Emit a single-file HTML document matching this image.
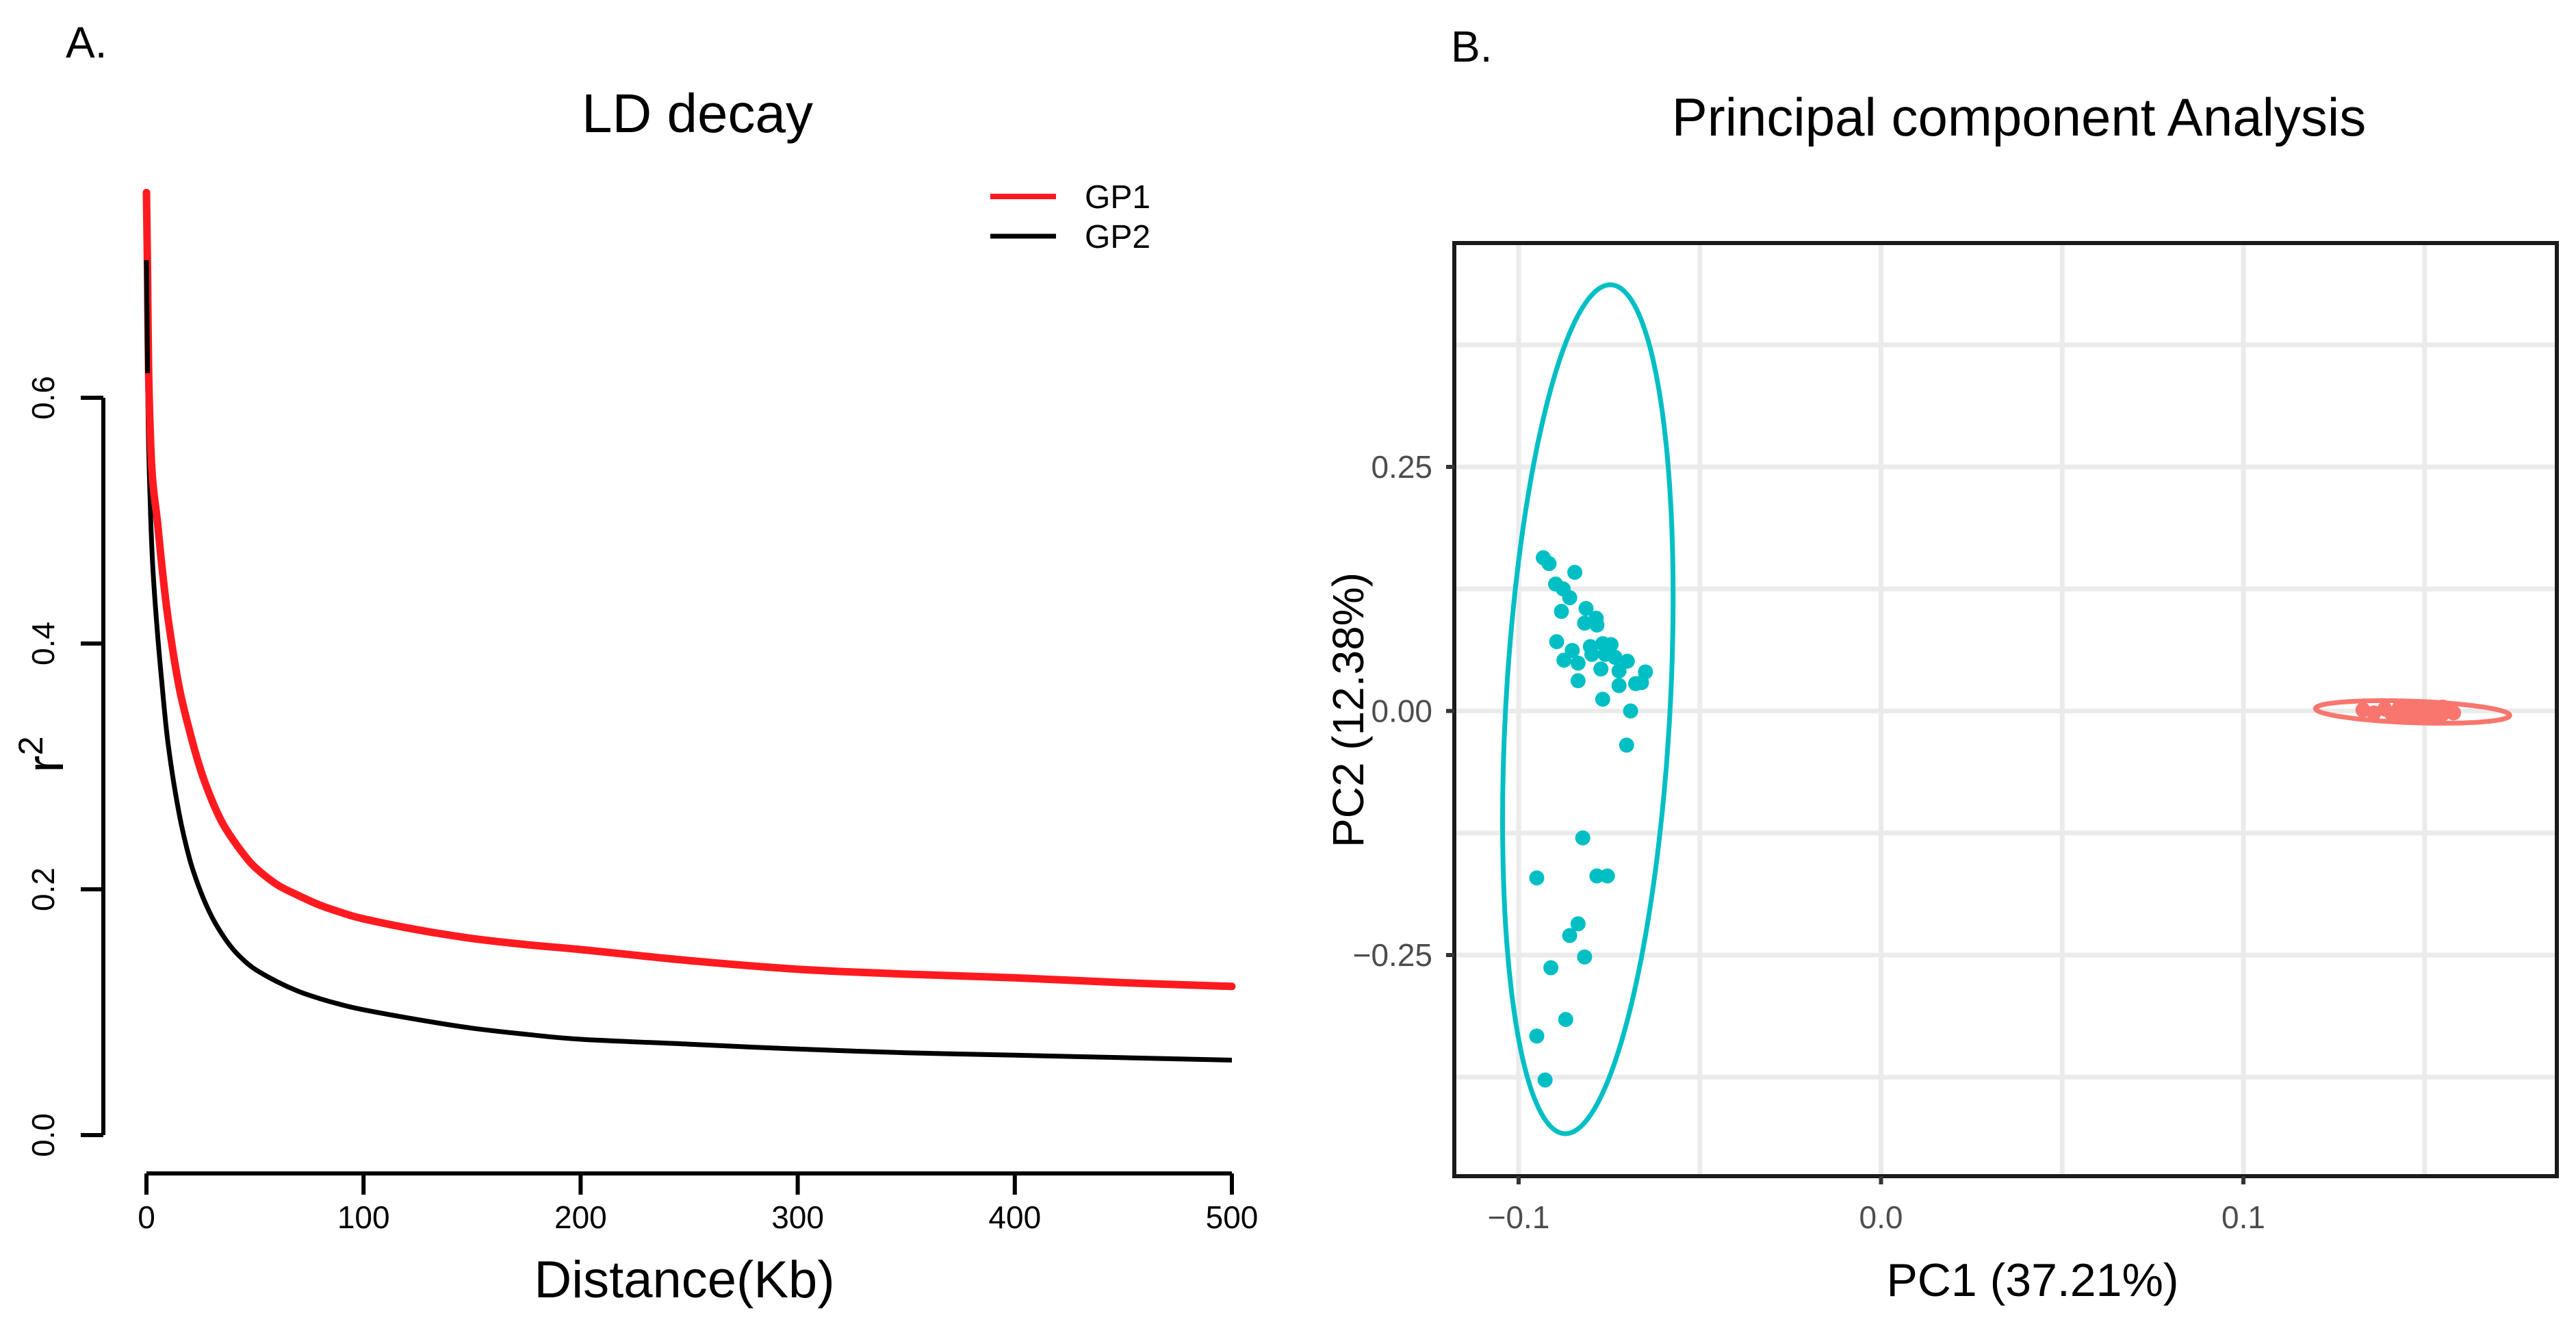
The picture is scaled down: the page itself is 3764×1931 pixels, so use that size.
<!DOCTYPE html>
<html><head><meta charset="utf-8"><style>
html,body{margin:0;padding:0;background:#fff;}
svg{display:block;}
text{font-family:"Liberation Sans",Arial,sans-serif;}
</style></head><body>
<svg id="fig" width="3764" height="1931" viewBox="0 0 3764 1931" xmlns="http://www.w3.org/2000/svg">
<g id="ld"></g>
<g id="pca"></g>
</svg>
<script>
// ---------- LD decay data ----------
const ldDistance = [0,0.5,1,2,3,5,7,10,15,20,25,30,35,40,45,50,60,70,80,90,100,125,150,175,200,250,300,350,400,450,500];
const ldGP1 = [0.767,0.70,0.62,0.56,0.53,0.50,0.465,0.42,0.365,0.328,0.297,0.273,0.254,0.240,0.228,0.218,0.204,0.195,0.187,0.181,0.176,0.167,0.160,0.155,0.151,0.142,0.135,0.131,0.128,0.124,0.121];
const ldGP2 = [0.712,0.62,0.56,0.50,0.46,0.41,0.37,0.318,0.262,0.224,0.198,0.178,0.163,0.151,0.142,0.135,0.125,0.117,0.111,0.106,0.102,0.094,0.087,0.082,0.078,0.074,0.070,0.067,0.065,0.063,0.061];
const ldXTicks = [0,100,200,300,400,500];
const ldYTicks = [0.0,0.2,0.4,0.6];
const ldYTickLabels = ["0.0","0.2","0.4","0.6"];
const ldSeriesNames = ["GP1","GP2"];

// ---------- PCA data ----------
const pcaGP2x = [-0.0932,-0.0916,-0.0845,-0.0898,-0.0877,-0.0859,-0.0882,-0.0814,-0.0786,-0.0818,-0.0784,-0.0895,-0.0852,-0.0802,-0.0768,-0.0745,-0.0798,-0.0761,-0.0734,-0.0875,-0.0836,-0.0700,-0.0773,-0.0723,-0.0650,-0.0836,-0.0661,-0.0677,-0.0723,-0.0768,-0.0691,-0.0702,-0.0823,-0.0950,-0.0784,-0.0755,-0.0836,-0.0859,-0.0818,-0.0911,-0.0870,-0.0950,-0.0927];
const pcaGP2y = [0.157,0.151,0.142,0.130,0.125,0.116,0.102,0.105,0.095,0.090,0.088,0.071,0.062,0.066,0.069,0.068,0.058,0.058,0.055,0.052,0.049,0.051,0.043,0.041,0.040,0.031,0.029,0.028,0.026,0.012,0.000,-0.035,-0.130,-0.171,-0.169,-0.169,-0.218,-0.230,-0.252,-0.263,-0.316,-0.333,-0.378];
const pcaGP1x = [0.133,0.136,0.139,0.141,0.143,0.144,0.145,0.146,0.147,0.148,0.149,0.150,0.151,0.152,0.153,0.154,0.155,0.156,0.158,0.146,0.149,0.152,0.142,0.155];
const pcaGP1y = [0.001,-0.002,0.002,-0.003,0.003,-0.004,0.000,0.004,-0.003,0.002,-0.005,0.003,-0.002,0.001,-0.004,0.002,-0.003,0.000,-0.002,-0.006,-0.007,-0.006,-0.005,0.004];
const pcaXTicks = [-0.1,0.0,0.1];
const pcaXTickLabels = ["\u22120.1","0.0","0.1"];
const pcaXMinor = [-0.05,0.05,0.15];
const pcaYTicks = [-0.25,0.0,0.25];
const pcaYTickLabels = ["\u22120.25","0.00","0.25"];
const pcaYMinor = [-0.375,-0.125,0.125,0.375];
const ellGP2 = [-0.0809,0.0018, 0.0062,0.4348, 0.0227,0.0];
const ellGP1 = [0.1467,-0.001, 0.0268,-0.0035, 0.0,0.011];

const NS="http://www.w3.org/2000/svg";
function mk(parent,tag,attrs,txt){const e=document.createElementNS(NS,tag);for(const k in attrs)e.setAttribute(k,attrs[k]);if(txt!==undefined)e.textContent=txt;parent.appendChild(e);return e;}

// ===== LD chart =====
(function(){
const g=document.getElementById('ld');
const X=v=>214+v*(1800-214)/500;
const Y=v=>1658-v*(1658-581)/0.6;
let t;
t=mk(g,'text',{x:96,y:84,'font-size':64,fill:'#000'},'A.');

t=mk(g,'text',{x:1019,y:193,'font-size':80,'text-anchor':'middle',fill:'#000'},'LD decay');

let a=mk(g,'line',{x1:151,x2:151,y1:Y(0.6),y2:Y(0),stroke:'#000','stroke-width':6});

ldYTicks.forEach((v,i)=>{
 const tk=mk(g,'line',{x1:118,x2:151,y1:Y(v),y2:Y(v),stroke:'#000','stroke-width':6});
 
 const lb=mk(g,'text',{x:0,y:0,'font-size':46,'text-anchor':'middle',transform:`translate(79,${Y(v)}) rotate(-90)`,fill:'#000'},ldYTickLabels[i]);
 
});
a=mk(g,'line',{x1:X(0),x2:X(500),y1:1714,y2:1714,stroke:'#000','stroke-width':6});

ldXTicks.forEach(v=>{
 const tk=mk(g,'line',{x1:X(v),x2:X(v),y1:1714,y2:1745,stroke:'#000','stroke-width':6});
 
 const lb=mk(g,'text',{x:X(v),y:1794,'font-size':46,'text-anchor':'middle',fill:'#000'},String(v));
 
});
t=mk(g,'text',{x:0,y:0,'font-size':76,transform:'translate(92,1102) rotate(-90)','text-anchor':'middle',fill:'#000'});

t.innerHTML='r<tspan dy="-30" font-size="50">2</tspan>';
t=mk(g,'text',{x:1000,y:1895,'font-size':76,'text-anchor':'middle',fill:'#000'},'Distance(Kb)');

function path(ys){
 const P=ldDistance.map((d,i)=>[X(d),Y(ys[i])]);
 let s='M'+P[0][0].toFixed(1)+','+P[0][1].toFixed(1);
 for(let i=0;i<P.length-1;i++){
  const p0=P[Math.max(0,i-1)],p1=P[i],p2=P[i+1],p3=P[Math.min(P.length-1,i+2)];
  const c1=[p1[0]+(p2[0]-p0[0])/6,p1[1]+(p2[1]-p0[1])/6];
  const c2=[p2[0]-(p3[0]-p1[0])/6,p2[1]-(p3[1]-p1[1])/6];
  s+=` C${c1[0].toFixed(1)},${c1[1].toFixed(1)} ${c2[0].toFixed(1)},${c2[1].toFixed(1)} ${p2[0].toFixed(1)},${p2[1].toFixed(1)}`;
 }
 return s;
}
let p=mk(g,'path',{d:path(ldGP2),fill:'none',stroke:'#000','stroke-width':7,'stroke-linejoin':'round'});

p=mk(g,'path',{d:path(ldGP1),fill:'none',stroke:'#ff1a1f','stroke-width':11,'stroke-linejoin':'round','stroke-linecap':'round'});

p=mk(g,'line',{x1:X(ldDistance[0]),y1:Y(ldGP2[0]),x2:X(ldDistance[1]),y2:Y(ldGP2[1]),stroke:'#000','stroke-width':7});

const cols=['#ff1a1f','#000'];
ldSeriesNames.forEach((n,i)=>{
 const yy=287+i*58;
 const l=mk(g,'line',{x1:1447,x2:1543,y1:yy,y2:yy,stroke:cols[i],'stroke-width':i?7:8});
 
 const tx=mk(g,'text',{x:1585,y:yy+17,'font-size':48,fill:'#000'},n);
 
});
})();

// ===== PCA chart =====
(function(){
const g=document.getElementById('pca');
const L=2125,R=3736,T=355,B=1718;
const X=v=>2748.5+v*5295;
const Y=v=>1038.5-v*1426;
let t=mk(g,'text',{x:2120,y:90,'font-size':64,fill:'#000'},'B.');

t=mk(g,'text',{x:2950,y:198,'font-size':78,'text-anchor':'middle',fill:'#000'},'Principal component Analysis');

const gc='#ebebeb';
pcaXMinor.concat(pcaXTicks).forEach(v=>{
 const l=mk(g,'line',{x1:X(v),x2:X(v),y1:T,y2:B,stroke:gc,'stroke-width':7});
 
});
pcaYMinor.concat(pcaYTicks).forEach(v=>{
 const l=mk(g,'line',{x1:L,x2:R,y1:Y(v),y2:Y(v),stroke:gc,'stroke-width':7});
 
});
function ell(e){const pts=[];for(let k=0;k<=180;k++){const a=k/180*2*Math.PI;const x=e[0]+e[2]*Math.cos(a)+e[4]*Math.sin(a);const y=e[1]+e[3]*Math.cos(a)+e[5]*Math.sin(a);pts.push((k?'L':'M')+X(x).toFixed(1)+','+Y(y).toFixed(1));}return pts.join(' ')+'Z';}
pcaGP2x.forEach((x,i)=>{
 const c=mk(g,'circle',{cx:X(x),cy:Y(pcaGP2y[i]),r:11,fill:'#00bfc4'});
 
});
pcaGP1x.forEach((x,i)=>{
 const c=mk(g,'circle',{cx:X(x),cy:Y(pcaGP1y[i]),r:11,fill:'#f8766d'});
 
});
let e=mk(g,'path',{d:ell(ellGP2),fill:'none',stroke:'#00bfc4','stroke-width':7});

e=mk(g,'path',{d:ell(ellGP1),fill:'none',stroke:'#f8766d','stroke-width':7});

const bx=mk(g,'rect',{x:L,y:T,width:R-L,height:B-T,fill:'none',stroke:'#1a1a1a','stroke-width':6});

pcaXTicks.forEach((v,i)=>{
 const tk=mk(g,'line',{x1:X(v),x2:X(v),y1:B,y2:B+12,stroke:'#333','stroke-width':6});
 
 const lb=mk(g,'text',{x:X(v),y:1794,'font-size':46,'text-anchor':'middle',fill:'#4d4d4d'},pcaXTickLabels[i]);
 
});
pcaYTicks.forEach((v,i)=>{
 const tk=mk(g,'line',{x1:L-12,x2:L,y1:Y(v),y2:Y(v),stroke:'#333','stroke-width':6});
 
 const lb=mk(g,'text',{x:2093,y:Y(v)+16,'font-size':46,'text-anchor':'end',fill:'#4d4d4d'},pcaYTickLabels[i]);
 
});
t=mk(g,'text',{x:2970,y:1893,'font-size':68,'text-anchor':'middle',fill:'#000'},'PC1 (37.21%)');

t=mk(g,'text',{x:0,y:0,'font-size':64,'text-anchor':'middle',transform:'translate(1992,1037) rotate(-90)',fill:'#000'},'PC2 (12.38%)');

})();
</script>
</body></html>
